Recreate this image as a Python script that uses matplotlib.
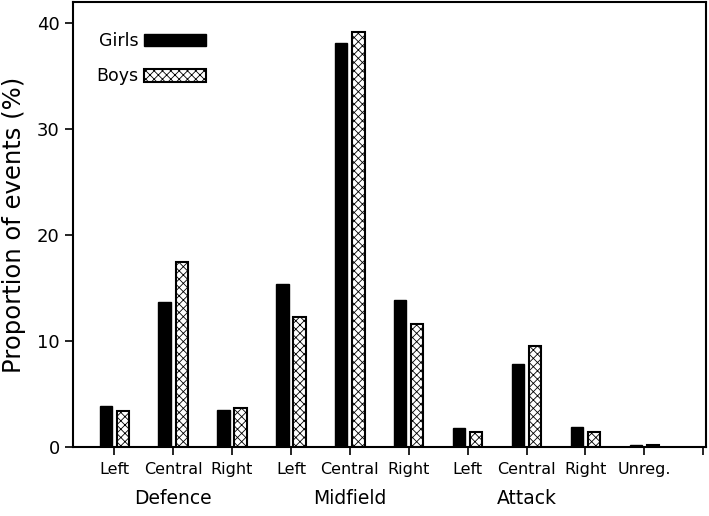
import matplotlib
matplotlib.use('Agg')
import matplotlib.pyplot as plt
import numpy as np

# Datos (% de eventos por zona)
zones = ['Left', 'Central', 'Right', 'Left', 'Central', 'Right',
         'Left', 'Central', 'Right', 'Unreg.']
groups = ['Defence', 'Midfield', 'Attack']
group_centres = [1, 4, 7]
girls = [3.9, 13.7, 3.5, 15.4, 38.1, 13.9, 1.8, 7.8, 1.9, 0.2]
boys = [3.4, 17.5, 3.7, 12.3, 39.2, 11.6, 1.4, 9.5, 1.4, 0.15]

plt.rcParams['font.family'] = 'DejaVu Sans'
plt.rcParams['hatch.color'] = '#666666'
plt.rcParams['hatch.linewidth'] = 0.6

fig = plt.figure(figsize=(7.09, 5.16), dpi=100)
ax = fig.add_axes([0.103, 0.134, 0.893, 0.862])

x = np.arange(len(zones))
w = 0.21
ax.bar(x - 0.145, girls, w, color='black', edgecolor='black', linewidth=1.0, label='Girls')
ax.bar(x + 0.145, boys, w, color='white', edgecolor='black', linewidth=1.5,
       hatch='xxxx', label='Boys')

ax.set_xlim(-0.7, 10.05)
ax.set_ylim(0, 42)
ax.set_xticks(list(x) + [10])
ax.set_xticklabels(zones + [''], fontsize=11.5)
ax.set_yticks([0, 10, 20, 30, 40])
ax.tick_params(axis='y', labelsize=13, length=6, width=1.2, direction='out')
ax.tick_params(axis='x', length=6, width=1.2, direction='out', pad=5)
for s in ax.spines.values():
    s.set_linewidth(1.5)

ax.set_ylabel('Proportion of events (%)', fontsize=17.5, labelpad=8)

for g, c in zip(groups, group_centres):
    ax.text(c, -0.117, g, transform=ax.get_xaxis_transform(),
            ha='center', va='center', fontsize=13.5)

leg = ax.legend(loc='upper left', frameon=False, fontsize=12.5, markerfirst=False,
                handlelength=3.55, handleheight=0.75, labelspacing=1.0,
                bbox_to_anchor=(0.012, 0.968), handletextpad=0.35)

fig.savefig('out.png', dpi=100)
